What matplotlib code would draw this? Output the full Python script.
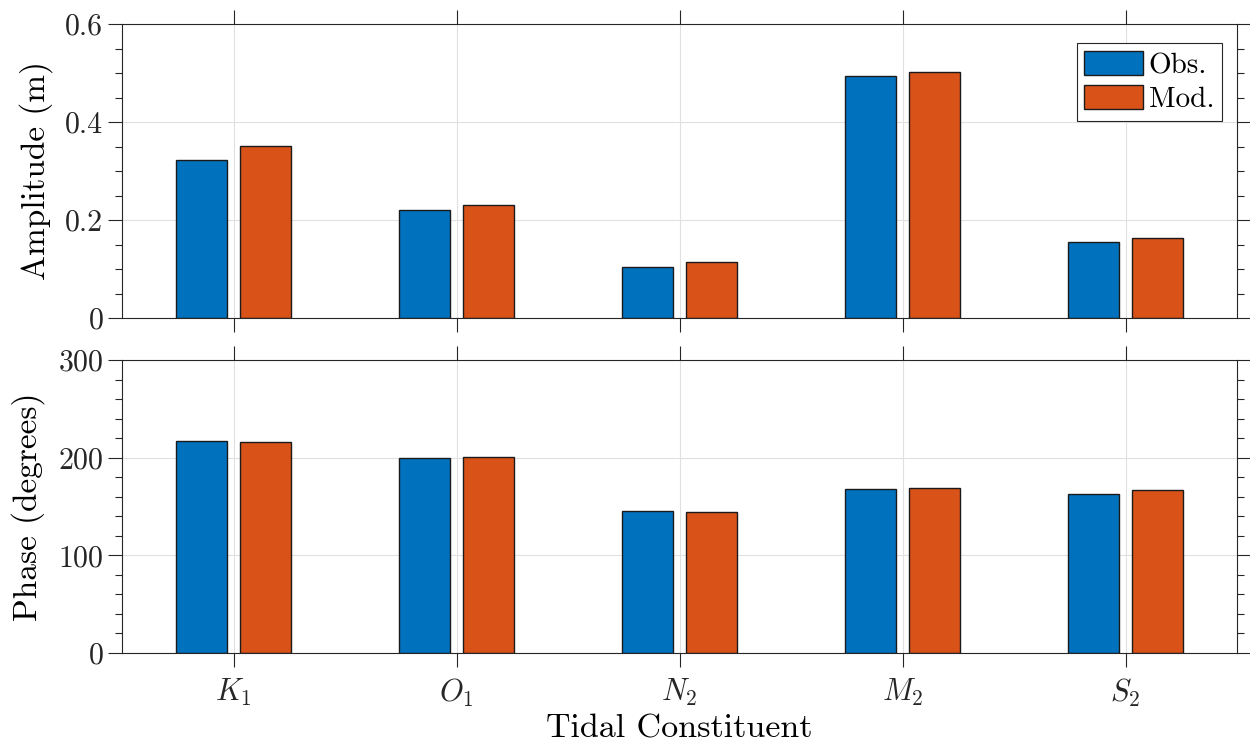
import numpy as np
import matplotlib
matplotlib.use("Agg")
import matplotlib.pyplot as plt
from matplotlib.ticker import MultipleLocator

plt.rcParams['font.family'] = 'serif'
plt.rcParams['font.serif'] = ['cmr10']
plt.rcParams['mathtext.fontset'] = 'cm'
plt.rcParams['axes.formatter.use_mathtext'] = True

# constituents and harmonic analysis results
constituents = ['$K_1$', '$O_1$', '$N_2$', '$M_2$', '$S_2$']
amp_obs = [0.322, 0.220, 0.105, 0.493, 0.155]
amp_mod = [0.352, 0.231, 0.114, 0.503, 0.164]
pha_obs = [217.5, 199.8, 145.2, 167.7, 162.3]
pha_mod = [216.5, 200.8, 144.6, 169.1, 167.1]

c_obs = '#0072BD'
c_mod = '#D95319'
axcol = '#262626'

x = np.arange(1, len(constituents) + 1)
w = 0.232
off = 0.143

fig = plt.figure(figsize=(12.5, 7.5), dpi=100)
ax1 = fig.add_axes([0.0976, 0.576, 0.892, 0.392])
ax2 = fig.add_axes([0.0976, 0.1293, 0.892, 0.3907])


def style(ax):
    ax.set_xlim(0.5, 5.5)
    ax.set_xticks(x)
    ax.grid(True, which='major', color='#e0e0e0', linewidth=0.8)
    ax.set_axisbelow(True)
    for s in ax.spines.values():
        s.set_color(axcol)
        s.set_linewidth(0.8)
    ax.tick_params(which='both', direction='out', top=True, right=True,
                   colors=axcol, labelcolor='#262626', labelsize=21.5)
    ax.tick_params(which='major', length=10, width=0.8)
    ax.tick_params(which='minor', length=5, width=0.8)
    ax.tick_params(axis='x', which='minor', top=False, bottom=False)


ax1.bar(x - off, amp_obs, w, color=c_obs, edgecolor='#1a1a1a', linewidth=1.0, label='Obs.')
ax1.bar(x + off, amp_mod, w, color=c_mod, edgecolor='#1a1a1a', linewidth=1.0, label='Mod.')
style(ax1)
ax1.set_ylim(0, 0.6)
ax1.set_yticks([0, 0.2, 0.4, 0.6])
ax1.set_yticklabels(['0', '0.2', '0.4', '0.6'])
ax1.yaxis.set_minor_locator(MultipleLocator(0.05))
ax1.set_xticklabels([])
ax1.set_ylabel('Amplitude (m)', fontsize=24, labelpad=9)
leg = ax1.legend(loc='upper right', bbox_to_anchor=(1 - 15 / 1115, 1 - 19 / 294),
                 borderaxespad=0, fontsize=21, fancybox=False, framealpha=1,
                 edgecolor=axcol, handlelength=2.0, handleheight=0.9,
                 handletextpad=0.2, borderpad=0.27, labelspacing=0.2)
leg.get_frame().set_linewidth(0.8)

ax2.bar(x - off, pha_obs, w, color=c_obs, edgecolor='#1a1a1a', linewidth=1.0)
ax2.bar(x + off, pha_mod, w, color=c_mod, edgecolor='#1a1a1a', linewidth=1.0)
style(ax2)
ax2.set_ylim(0, 300)
ax2.set_yticks([0, 100, 200, 300])
ax2.yaxis.set_minor_locator(MultipleLocator(20))
ax2.set_xticklabels(constituents, fontsize=22)
ax2.tick_params(axis='x', pad=7)
ax2.set_ylabel('Phase (degrees)', fontsize=24, labelpad=9)
ax2.set_xlabel('Tidal Constituent', fontsize=24.5, labelpad=4)

fig.savefig('out.png', dpi=100)
